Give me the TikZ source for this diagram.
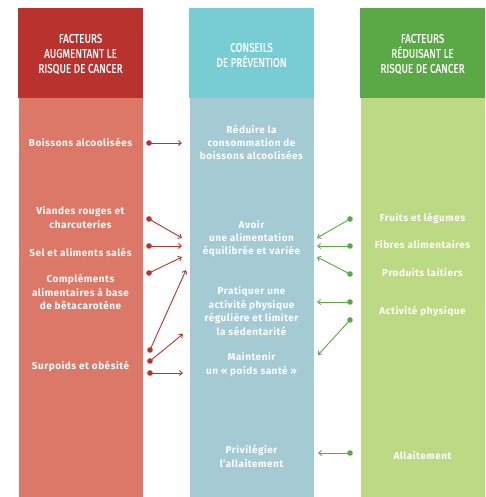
\documentclass[tikz,border=0pt]{standalone}
\usepackage{fontspec}
\setmainfont{Fira Sans}
\newfontfamily\hdrfont[FakeStretch=0.78,FakeBold=0.6]{Fira Sans}
\newfontfamily\txtfont[LetterSpace=5]{Fira Sans}
\usetikzlibrary{arrows.meta}
\definecolor{hred}{HTML}{B9322E}
\definecolor{bred}{HTML}{DC7867}
\definecolor{hcyan}{HTML}{78CCD4}
\definecolor{bcyan}{HTML}{A4CAD3}
\definecolor{hgreen}{HTML}{5AA846}
\definecolor{bgreen}{HTML}{BCD983}
\tikzset{
  hdr/.style={text=white,align=center,font=\hdrfont\fontsize{12.6}{15}\selectfont},
  txt/.style={text=white,align=center,font=\txtfont\bfseries\fontsize{10}{13.4}\selectfont,inner sep=0pt},
  redarr/.style={draw=hred,line width=0.9pt,-{Straight Barb[length=3pt,width=5pt]}},
  grnarr/.style={draw=hgreen,line width=0.9pt,-{Straight Barb[length=3pt,width=5pt]}},
  reddot/.style={fill=hred},
  grndot/.style={fill=hgreen}
}
\begin{document}
\begin{tikzpicture}[x=1pt,y=-1pt]
\useasboundingbox (0,0) rectangle (486,497);
% columns
\fill[hred] (18,8) rectangle (143,98);
\fill[bred] (19,98) rectangle (143,497);
\fill[hcyan] (189,8) rectangle (314,98);
\fill[bcyan] (190,98) rectangle (314,497);
\fill[hgreen] (360,8) rectangle (485,98);
\fill[bgreen] (361,98) rectangle (485,497);
% headers
\node[hdr] (h1) at (80.5,54) {FACTEURS\\AUGMENTANT LE\\RISQUE DE CANCER};
\node[hdr] (h2) at (251.5,55) {CONSEILS\\DE PRÉVENTION};
\node[hdr] (h3) at (422.5,54) {FACTEURS\\RÉDUISANT LE\\RISQUE DE CANCER};
% red column texts
\node[txt] (r1) at (80.5,142) {Boissons alcoolisées};
\node[txt] (r2) at (80.5,217.5) {Viandes rouges et\\charcuteries};
\node[txt] (r3) at (80.5,252) {Sel et aliments salés};
\node[txt] (r4) at (80.5,292) {Compléments\\alimentaires à base\\de bêtacarotène};
\node[txt] (r5) at (80.5,366) {Surpoids et obésité};
% cyan column texts
\node[txt] (c1) at (251.5,142.5) {Réduire la\\consommation de\\boissons alcoolisées};
\node[txt] (c2) at (251.5,238.5) {Avoir\\une alimentation\\équilibrée et variée};
\node[txt] (c3) at (251.5,311) {Pratiquer une\\activité physique\\régulière et limiter\\la sédentarité};
\node[txt] (c4) at (251.5,364.5) {Maintenir\\un « poids santé »};
\node[txt] (c5) at (251.5,456.5) {Privilégier\\l’allaitement};
% green column texts
\node[txt] (g1) at (422.5,218) {Fruits et légumes};
\node[txt] (g2) at (422.5,245) {Fibres alimentaires};
\node[txt] (g3) at (422.5,273) {Produits laitiers};
\node[txt] (g4) at (422.5,311) {Activité physique};
\node[txt] (g5) at (422.5,456) {Allaitement};
% red connector endpoints
\coordinate (rs1) at (149,143); \coordinate (re1) at (182,143);
\coordinate (rs2) at (149,219); \coordinate (re2) at (182,238);
\coordinate (rs3) at (149,246); \coordinate (re3) at (182,246);
\coordinate (rs4) at (149,273); \coordinate (re4) at (182,257);
\coordinate (rs5) at (150,350); \coordinate (re5) at (186,270);
\coordinate (rs6) at (150,361); \coordinate (re6) at (183,334);
\coordinate (rs7) at (150,373); \coordinate (re7) at (183,373);
\foreach \i in {1,...,7}{
  \draw[redarr] (rs\i) -- (re\i);
  \fill[reddot] (rs\i) circle (2.8);
}
% green connector endpoints
\coordinate (gs1) at (350,219); \coordinate (ge1) at (317,238);
\coordinate (gs2) at (350,246); \coordinate (ge2) at (317,246);
\coordinate (gs3) at (350,274); \coordinate (ge3) at (317,257);
\coordinate (gs4) at (350,302); \coordinate (ge4) at (317,302);
\coordinate (gs5) at (350,320); \coordinate (ge5) at (318,355);
\coordinate (gs6) at (350,453); \coordinate (ge6) at (318,453);
\foreach \i in {1,...,6}{
  \draw[grnarr] (gs\i) -- (ge\i);
  \fill[grndot] (gs\i) circle (2.8);
}
\end{tikzpicture}
\end{document}
